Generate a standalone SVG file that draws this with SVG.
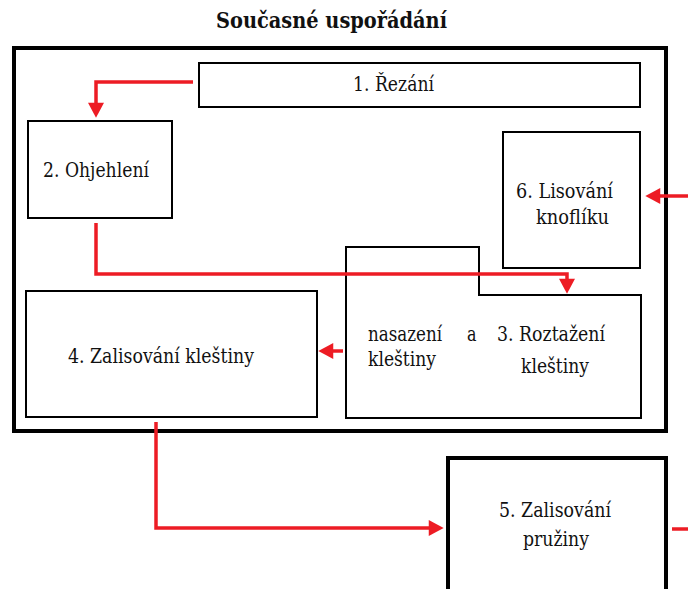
<svg xmlns="http://www.w3.org/2000/svg" width="688" height="589" viewBox="0 0 688 589">
  <style>
    .box { fill: #fff; stroke: #000; stroke-width: 2; }
    .frame { fill: none; stroke: #000; stroke-width: 4; }
    .lbl { font-family: "DejaVu Serif", "Liberation Serif", serif; font-size: 19.5px; fill: #111; }
    .title { font-family: "DejaVu Serif", "Liberation Serif", serif; font-size: 22px; font-weight: bold; fill: #111; }
    .flow { fill: none; stroke: #ED1C24; stroke-width: 3.5; }
  </style>
  <defs>
    <marker id="head" markerUnits="userSpaceOnUse" markerWidth="16" markerHeight="16" viewBox="0 0 14 15" refX="4" refY="7.5" orient="auto">
      <path d="M0,0 L14,7.5 L0,15 z" fill="#ED1C24"/>
    </marker>
  </defs>

  <rect width="688" height="589" fill="#fff"/>

  <text class="title" x="216" y="28" textLength="231" lengthAdjust="spacingAndGlyphs">Současné uspořádání</text>

  <!-- workplace boundary -->
  <rect class="frame" x="14" y="48" width="652" height="383"/>

  <g id="node1">
    <rect class="box" x="199" y="63" width="441" height="44"/>
    <text class="lbl" x="353" y="91" textLength="81" lengthAdjust="spacingAndGlyphs">1. Řezání</text>
  </g>

  <g id="node2">
    <rect class="box" x="28" y="121" width="144" height="97"/>
    <text class="lbl" x="43" y="177" textLength="106" lengthAdjust="spacingAndGlyphs">2. Ohjehlení</text>
  </g>

  <g id="node6">
    <rect class="box" x="503" y="132" width="137" height="136"/>
    <text class="lbl" x="516" y="198" textLength="97" lengthAdjust="spacingAndGlyphs">6. Lisování</text>
    <text class="lbl" x="536" y="224" textLength="73" lengthAdjust="spacingAndGlyphs">knoflíku</text>
  </g>

  <g id="node3">
    <polygon class="box" points="346,247 479,247 479,295 641,295 641,418 346,418"/>
    <text class="lbl" x="368" y="341" textLength="74" lengthAdjust="spacingAndGlyphs">nasazení</text>
    <text class="lbl" x="467" y="341" textLength="9.5" lengthAdjust="spacingAndGlyphs">a</text>
    <text class="lbl" x="497" y="341" textLength="108" lengthAdjust="spacingAndGlyphs">3. Roztažení</text>
    <text class="lbl" x="368" y="366" textLength="68" lengthAdjust="spacingAndGlyphs">kleštiny</text>
    <text class="lbl" x="521" y="373" textLength="68" lengthAdjust="spacingAndGlyphs">kleštiny</text>
  </g>

  <g id="node4">
    <rect class="box" x="26" y="291" width="291" height="126"/>
    <text class="lbl" x="68" y="363" textLength="186" lengthAdjust="spacingAndGlyphs">4. Zalisování kleštiny</text>
  </g>

  <g id="node5">
    <path d="M448,600 V458 H666 V600" fill="#fff" stroke="#000" stroke-width="4"/>
    <text class="lbl" x="499" y="517" textLength="112" lengthAdjust="spacingAndGlyphs">5. Zalisování</text>
    <text class="lbl" x="523" y="546" textLength="66" lengthAdjust="spacingAndGlyphs">pružiny</text>
  </g>

  <g id="connectors">
    <path class="flow" d="M193,82 H96 V107" marker-end="url(#head)"/>
    <path class="flow" d="M96,223 V274 H567 V283" marker-end="url(#head)"/>
    <path class="flow" d="M343,351 H329" marker-end="url(#head)"/>
    <path class="flow" d="M156,422 V528 H433" marker-end="url(#head)"/>
    <path class="flow" d="M672,529 H688"/>
    <path class="flow" d="M688,196 H656" marker-end="url(#head)"/>
  </g>
</svg>
